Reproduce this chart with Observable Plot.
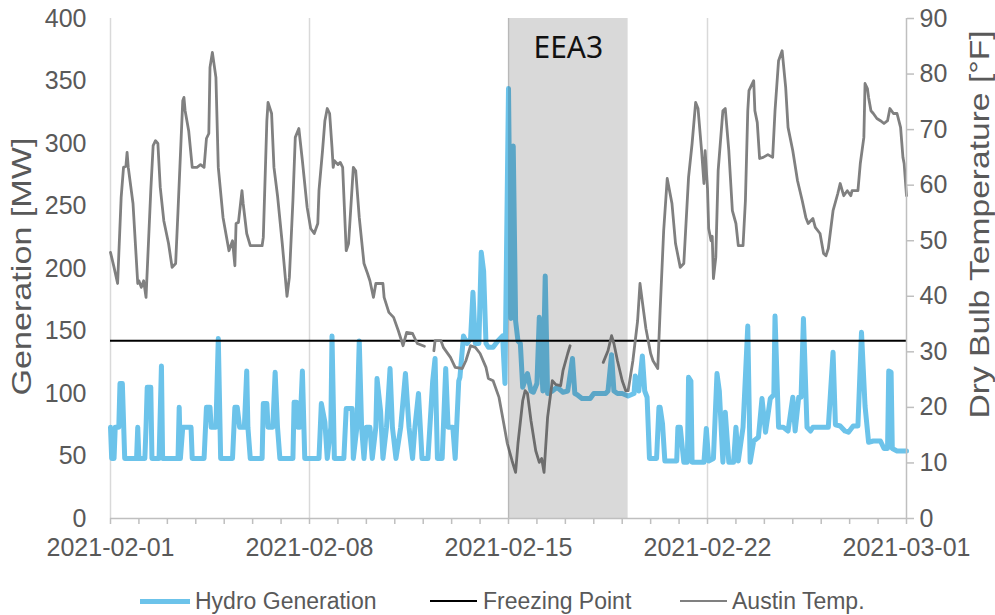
<!DOCTYPE html>
<html>
<head>
<meta charset="utf-8">
<script src="https://cdn.jsdelivr.net/npm/d3@7"></script>
<script src="https://cdn.jsdelivr.net/npm/@observablehq/plot@0.6"></script>
<style>
  body { margin: 0; background: white; }
  #wrap { position: relative; width: 995px; height: 615px; font-family: "Liberation Sans", Arial, sans-serif; }
  #legend { position: absolute; left: 0; top: 570px; width: 995px; height: 45px; }
  .sw { position: absolute; height: 0; }
  .lt { position: absolute; font-size: 23px; color: #595959; line-height: 28px; top: 17px; white-space: nowrap; }
</style>
</head>
<body>
<div id="wrap">
  <div id="chart"></div>
  <div id="legend"></div>
</div>
<script>
// ---- data (hours since 2021-02-01 00:00) ----
const tempHours = [0,3,6,9,11,13,14,15,19,23,24,26,28,30,34,36,38,40,42,45,49,52,55,57,61,62,63,66,69,73,76,79,81,83,84,86,89,91,95,100,103,105,106,108,111,112,115,118,128,129,132,133,136,138,141,145,149,151,154,156,159,162,166,169,172,175,176,179,181,183,185,187,188,189,192,194,196,199,201,205,207,210,214,217,219,222,224,230,231,235,239,243,247,250,255,259,265,269,273,274,279,281,287,291,297,300,304,308,312,317,319,323,328,332,335,339,342,344,348,350,352,355,359,362,364,366,369,373,376,380,382,386,388,400,416,420,423,425,428,432,435,437,441,445,447,450,452,456,458,462,464,467,470,474,477,481,484,488,491,494,496,499,501,502,504,505,507,508,509,511,513,517,519,522,525,528,530,534,536,538,539,543,544,546,548,551,555,559,561,564,567,570,572,576,580,584,587,589,593,595,599,602,604,606,610,614,616,619,622,625,626,631,633,636,637,639,640,642,644,647,650,653,656,658,661,664,667,669,670,672];
const tempF = [47.9,45.2,42.3,57.8,63.2,63.4,65.9,63.2,56.7,42.3,42.8,41.6,42.8,39.8,59.0,67.1,68.0,67.5,59.6,53.6,49.5,45.2,45.9,55.4,75.2,75.8,73.4,69.8,63.2,63.2,63.7,63.2,68.4,69.3,81.2,83.9,79.4,63.2,54.2,48.2,50.0,45.5,53.1,53.3,59.0,56.7,51.3,49.1,49.1,50.6,71.6,74.9,72.9,63.2,58.1,49.5,40.0,43.4,57.2,68.6,70.2,64.4,56.0,52.2,51.3,53.1,59.0,66.2,71.6,73.8,72.9,66.8,63.2,64.4,63.7,64.1,63.2,48.2,49.5,63.2,62.6,54.2,45.9,44.1,42.8,39.8,42.3,42.3,39.8,37.1,36.2,33.8,31.1,33.5,33.3,31.5,31.0,null,30.2,32.0,32.0,30.8,29.0,27.2,27.0,28.4,31.1,30.8,29.7,27.2,25.2,24.8,21.8,17.1,13.5,10.4,8.3,13.5,21.2,23.0,22.5,17.6,12.2,10.1,10.8,8.3,18.2,24.8,24.1,23.9,26.6,29.7,31.1,null,28.1,30.2,32.9,31.5,28.4,24.8,23.0,23.0,28.4,35.6,42.3,37.4,34.2,29.7,28.4,27.0,37.4,51.8,61.2,56.7,49.5,45.2,45.9,61.4,67.5,74.9,73.8,66.2,60.3,66.2,59.4,52.2,50.0,50.8,43.2,47.0,62.6,73.4,73.8,66.2,55.4,53.1,49.1,49.1,57.2,73.4,77.0,78.8,73.4,71.3,64.8,65.0,65.5,65.0,73.4,82.4,84.2,77.6,70.4,66.2,60.8,57.2,54.2,53.1,54.0,52.4,51.3,47.7,47.3,48.6,55.4,58.5,60.3,58.1,59.0,58.1,59.0,59.0,63.9,68.6,78.3,77.4,75.8,73.4,72.9,72.0,71.6,71.1,71.6,73.8,72.9,72.9,70.4,65.0,63.9,58.1];

const hydroHours = [0,1,3,4,7,8,10,12,22,23,24,29,30,31,34,35,41,43,44,57,58,59,61,68,69,79,81,84,85,89,91,93,103,105,107,109,113,115,116,118,128,129,132,133,137,139,141,143,154,155,157,158,160,162,164,176,178,181,183,186,187,189,197,199,204,205,208,210,212,214,216,219,221,224,225,228,230,233,236,238,241,245,249,252,255,257,260,263,268,272,274,276,280,283,285,289,291,294,295,298,301,304,306,308,311,313,315,317,319,323,327,331,333,336,338,340,342,344,346,348,352,355,357,360,362,365,367,369,373,377,382,386,390,392,394,398,405,408,418,420,423,425,428,432,437,442,443,446,449,451,453,455,461,463,464,466,468,478,479,481,484,487,488,490,491,501,503,505,509,512,514,517,519,522,526,528,530,534,538,540,543,547,550,553,557,560,561,564,568,572,576,578,581,583,585,588,591,593,606,610,612,616,620,623,627,631,634,637,640,644,650,653,656,657,659,660,664,672];
const hydroMW = [73,48,48,73,73,108,108,48,48,73,48,48,73,105,105,48,48,122,48,48,89,48,73,73,48,48,89,89,73,73,144,48,48,89,89,73,73,118,73,48,48,92,92,73,73,117,73,48,48,93,93,73,73,118,48,48,92,77,48,73,146,48,48,88,88,48,73,142,73,48,73,73,48,73,112,86,48,73,120,73,48,73,116,73,48,73,100,48,48,110,128,48,48,120,73,73,48,110,113,146,140,144,181,140,140,213,198,140,137,137,142,146,108,344,160,298,158,142,140,105,116,102,101,108,161,102,194,100,102,105,101,102,128,100,99,96,96,100,100,102,131,102,100,100,98,100,114,102,130,102,97,48,48,89,89,76,46,46,73,73,45,45,113,110,45,45,72,46,48,116,102,45,85,45,45,73,46,73,154,45,62,65,96,69,96,99,162,73,73,70,97,70,97,97,160,73,70,73,73,133,75,74,70,69,74,74,149,90,61,62,62,56,56,118,117,56,54,54];

const freezingF = 32;
const bandStartHour = 336, bandEndHour = 437;
const bandLabel = "EEA3";
const weekTicks = ["2021-02-01","2021-02-08","2021-02-15","2021-02-22","2021-03-01"];
const genTicks = [0,50,100,150,200,250,300,350,400];
const tempTicks = [0,10,20,30,40,50,60,70,80,90];
const leftTitle = "Generation [MW]";
const rightTitle = "Dry Bulb Temperature [°F]";
const legendItems = ["Hydro Generation","Freezing Point","Austin Temp."];

// ---- build ----
const t0 = Date.UTC(2021,1,1);
const toDate = h => new Date(t0 + h*3600e3);
const k = 400/90; // temp -> generation scale
const temp = tempHours.map((h,i)=>({date:toDate(h), f: tempF[i]}));
const hydro = hydroHours.map((h,i)=>({date:toDate(h), mw: hydroMW[i]}));
const start = new Date(t0), end = new Date(Date.UTC(2021,2,1));
const weekDates = weekTicks.map(s=>new Date(s+"T00:00:00Z"));
const days = d3.utcDay.range(start, new Date(+end + 1));
const blue = "#6cc3ea", gray = "#808080", axisGray = "#bfbfbf", textGray = "#595959";
const font = "'Liberation Sans', Arial, sans-serif";

const chart = Plot.plot({
  width: 995, height: 570,
  marginLeft: 110, marginRight: 89, marginTop: 18, marginBottom: 52,
  style: {fontFamily: font, fontSize: "25px", color: textGray, background: "white"},
  x: {type: "utc", domain: [start, end]},
  y: {domain: [0, 400]},
  marks: [
    Plot.ruleX(weekDates.slice(0,4), {stroke: "#d9d9d9", strokeWidth: 1.5}),
    Plot.line(hydro, {x: "date", y: "mw", stroke: blue, strokeWidth: 5, strokeLinejoin: "round"}),
    Plot.ruleY([freezingF*k], {x1: start, x2: end, stroke: "black", strokeWidth: 2}),
    Plot.line(temp, {x: "date", y: d => d.f == null ? NaN : d.f*k, stroke: gray, strokeWidth: 2.8, strokeLinejoin: "round"}),
    Plot.rect([{a: toDate(bandStartHour), b: toDate(bandEndHour)}], {x1: "a", x2: "b", y1: 0, y2: 400, fill: "black", fillOpacity: 0.15}),
    Plot.text([bandLabel], {x: toDate((bandStartHour+bandEndHour)/2), y: 400, dy: 30, text: d => d, fontSize: 30, fill: "#111", fontFamily: "'Noto Sans', 'Open Sans', sans-serif"}),
    Plot.ruleY([0], {stroke: axisGray, strokeWidth: 1.5}),
    Plot.ruleX([end], {stroke: axisGray, strokeWidth: 1.5}),
    Plot.axisX({ticks: days, tickSize: 6, tickFormat: () => "", stroke: axisGray, strokeWidth: 1.5, label: null}),
    Plot.axisX({ticks: weekDates, tickSize: 0, tickPadding: 20, tickFormat: d3.utcFormat("%Y-%m-%d"), label: null}),
    Plot.axisY({ticks: genTicks, tickSize: 0, tickPadding: 24, label: null}),
    Plot.axisY({anchor: "right", ticks: tempTicks.map(t => t*k), tickFormat: d => String(Math.round(d/k)), tickSize: 7, tickPadding: 6, stroke: axisGray, strokeWidth: 1.5, label: null}),
    Plot.text([leftTitle], {frameAnchor: "left", dx: -88, dy: 127, rotate: -90, textAnchor: "start", text: d => d, fontSize: 28, fill: textGray}),
    Plot.text([rightTitle], {frameAnchor: "right", dx: 74, dy: 150, rotate: -90, textAnchor: "start", text: d => d, fontSize: 28, fill: textGray})
  ]
});
document.getElementById("chart").appendChild(chart);
const stretch = (label, len) => d3.select(chart).selectAll("text")
  .filter(function() { return this.textContent === label; })
  .attr("textLength", len).attr("lengthAdjust", "spacingAndGlyphs");
stretch(leftTitle, 258);
stretch(rightTitle, 388);

// ---- legend ----
const lg = document.getElementById("legend");
const sw = [{l:140, w:50, c:blue, t:5}, {l:430, w:47, c:"black", t:2}, {l:680, w:47, c:gray, t:2.5}];
const txl = [195, 483, 732];
legendItems.forEach((name, i) => {
  const s = document.createElement("div");
  s.className = "sw";
  s.style.left = sw[i].l + "px"; s.style.width = sw[i].w + "px";
  s.style.top = (31 - sw[i].t/2) + "px";
  s.style.borderTop = sw[i].t + "px solid " + sw[i].c;
  lg.appendChild(s);
  const t = document.createElement("div");
  t.className = "lt"; t.style.left = txl[i] + "px"; t.textContent = name;
  lg.appendChild(t);
});
</script>
</body>
</html>
